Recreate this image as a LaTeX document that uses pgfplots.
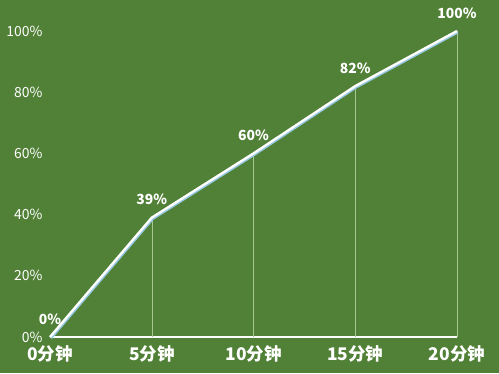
\documentclass[border=0pt]{standalone}
\usepackage{fontspec}
\setmainfont{Noto Sans CJK SC}
\usepackage{pgfplots}
\pgfplotsset{compat=1.18}
\definecolor{bg}{RGB}{81,128,55}
\definecolor{shadowc}{RGB}{150,200,225}
\definecolor{dropc}{RGB}{165,200,145}
\begin{document}
\begin{tikzpicture}[x=1bp,y=1bp]
\fill[bg] (0,0) rectangle (499,373);
\useasboundingbox (0,0) rectangle (499,373);
\begin{axis}[
  at={(50bp,36bp)}, anchor=south west,
  width=407bp, height=306bp, scale only axis,
  xmin=0, xmax=20, ymin=0, ymax=100,
  clip=false,
  /pgf/number format/assume math mode=true,
  axis x line*=bottom, axis y line*=left,
  y axis line style={draw=none},
  x axis line style={white, line width=1.2bp},
  tick style={draw=none},
  xtick={0,5,10,15,20},
  xticklabels={0分钟,5分钟,10分钟,15分钟,20分钟},
  ytick={0,20,40,60,80,100},
  yticklabels={0\%,20\%,40\%,60\%,80\%,100\%},
  x tick label style={font=\bfseries\fontsize{17.5}{17.5}\selectfont, text=white, yshift=-5bp},
  y tick label style={font=\fontsize{14}{14}\selectfont, text=white, xshift=-4bp},
]
\addplot[dropc, line width=0.5bp, ycomb] coordinates {(5,39)(10,60)(15,82)(20,100)};
\addplot[shadowc, line width=3.4bp, line join=round, xshift=0.7bp, yshift=-0.8bp] coordinates {(0,0)(5,39)(10,60)(15,82)(20,100)};
\addplot[white, line width=2.4bp, line join=round,
  nodes near coords={\pgfmathprintnumber{\pgfplotspointmeta}\%},
  nodes near coords style={font=\bfseries\fontsize{14}{14}\selectfont, text=white, anchor=south, yshift=8bp}]
  coordinates {(0,0)(5,39)(10,60)(15,82)(20,100)};
\end{axis}
\end{tikzpicture}
\end{document}
